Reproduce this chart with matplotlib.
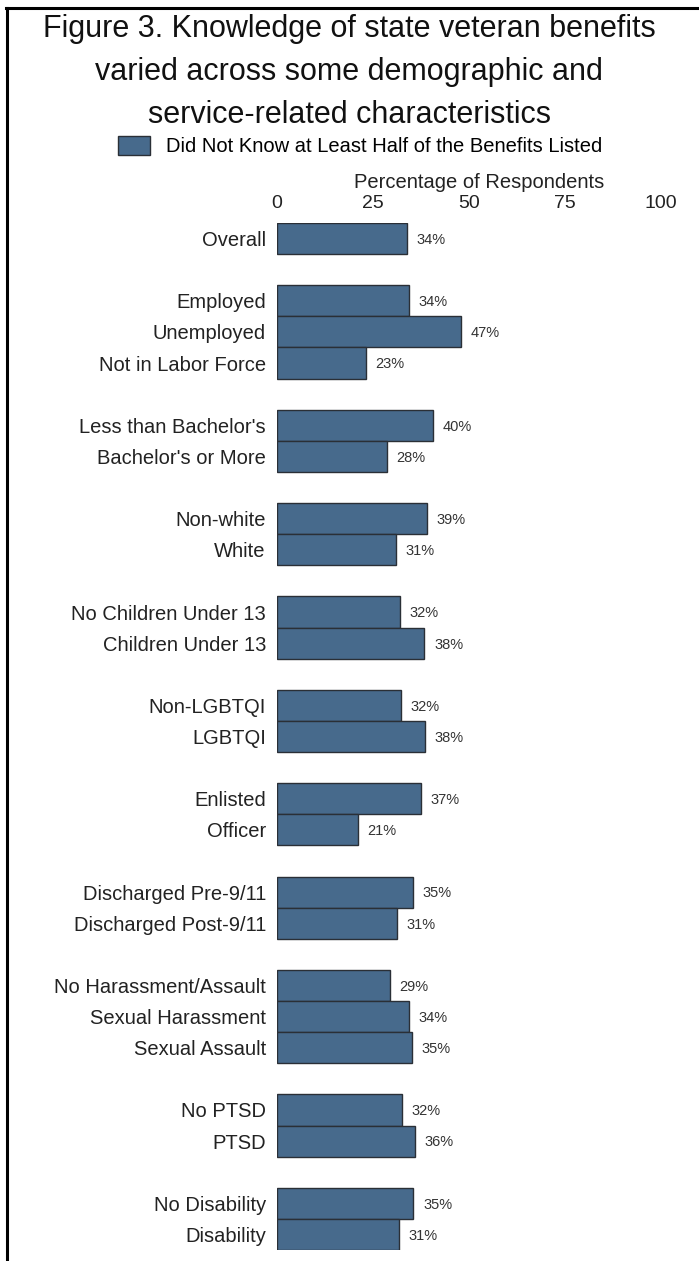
import matplotlib
matplotlib.use("Agg")
import matplotlib.pyplot as plt
from matplotlib.lines import Line2D

plt.rcParams['font.family'] = ['Liberation Sans', 'DejaVu Sans']

# Grupos de categorias (cada grupo separado por uma linha em branco)
groups = [
    ["Overall"],
    ["Employed", "Unemployed", "Not in Labor Force"],
    ["Less than Bachelor's", "Bachelor's or More"],
    ["Non-white", "White"],
    ["No Children Under 13", "Children Under 13"],
    ["Non-LGBTQI", "LGBTQI"],
    ["Enlisted", "Officer"],
    ["Discharged Pre-9/11", "Discharged Post-9/11"],
    ["No Harassment/Assault", "Sexual Harassment", "Sexual Assault"],
    ["No PTSD", "PTSD"],
    ["No Disability", "Disability"],
]
# comprimento das barras (estimado) e rótulo arredondado
pct = [33.9, 34.3, 47.8, 23.1, 40.6, 28.6, 39.0, 31.0, 32.0, 38.4, 32.3, 38.5,
       37.5, 21.1, 35.4, 31.3, 29.4, 34.4, 35.2, 32.6, 35.9, 35.5, 31.7]
pct_labels = [34, 34, 47, 23, 40, 28, 39, 31, 32, 38, 32, 38,
              37, 21, 35, 31, 29, 34, 35, 32, 36, 35, 31]
xticks = [0, 25, 50, 75, 100]

title = ("Figure 3. Knowledge of state veteran benefits\n"
         "varied across some demographic and\n"
         "service-related characteristics")
legend_label = "Did Not Know at Least Half of the Benefits Listed"

# posições no eixo y
labels, ypos = [], []
slot = 0
for g in groups:
    for name in g:
        labels.append(name)
        ypos.append(slot)
        slot += 1
    slot += 1
n_slots = slot - 1

fig = plt.figure(figsize=(6.99, 12.61), dpi=100)
ax = fig.add_axes([277 / 699, 1 - 1250 / 1261, 384 / 699, (1250 - 223) / 1261])

bars = ax.barh(ypos, pct, height=1.0, color="#476a8c", edgecolor="#2a2f36",
               linewidth=1.0, label=legend_label)
for y, v, lab in zip(ypos, pct, pct_labels):
    ax.annotate(f"{lab}%", (v, y), xytext=(7, -1), textcoords="offset points",
                ha="left", va="center", fontsize=10.5, color="#333333")

ax.set_ylim(n_slots - 0.5, -0.5)
ax.set_xlim(0, 100)
ax.set_yticks(ypos)
ax.set_yticklabels(labels, fontsize=14.5, color="#222222")
ax.set_xticks(xticks)
ax.set_xticklabels([str(t) for t in xticks], fontsize=14, color="#222222")
ax.xaxis.tick_top()
ax.xaxis.set_label_position("top")
ax.set_xlabel("Percentage of Respondents", fontsize=14.5, color="#222222",
              va="center")
ax.xaxis.set_label_coords((479 - 277) / 384, 1 + (223 - 182) / 1027)
ax.tick_params(axis="both", length=0, pad=8)
for s in ax.spines.values():
    s.set_visible(False)

fig.legend(handles=[bars], loc="center", bbox_to_anchor=(360 / 699, 1 - 146 / 1261),
           frameon=False, fontsize=14.5, handlelength=1.6, handleheight=1.05,
           handletextpad=0.8)

fig.text(349 / 699, 1 - 72 / 1261, title, ha="center", va="center",
         fontsize=22, linespacing=1.55, color="#111111")

# moldura (linha superior e esquerda)
fig.add_artist(Line2D([6 / 699, 1], [1 - 8 / 1261, 1 - 8 / 1261], color="black", lw=2.2))
fig.add_artist(Line2D([7 / 699, 7 / 699], [1 - 8 / 1261, 0], color="black", lw=2.2))

fig.savefig("out.png", dpi=100)
